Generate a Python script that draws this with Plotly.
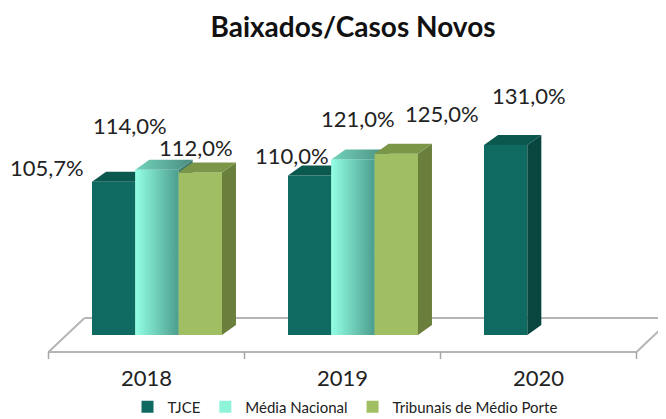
import plotly.graph_objects as go

# ---------------- data ----------------
categories = ["2018", "2019", "2020"]
series_names = ["TJCE", "Média Nacional", "Tribunais de Médio Porte"]
tjce = [105.7, 110.0, 131.0]
media_nacional = [114.0, 121.0, None]
tribunais_medio_porte = [112.0, 125.0, None]
chart_title = "Baixados/Casos Novos"

series_values = [tjce, media_nacional, tribunais_medio_porte]

# ---------------- styling / geometry ----------------
FONT = "Lato"
PAGE_OFF = 8           # default body margin of the page
W, H = 666 - PAGE_OFF, 419 - PAGE_OFF
M_L, M_R, M_T, M_B = 0, 0, 42, 57
PX_PER_CAT = 196.0     # pixels per category
CAT0_PX = 146.5 - PAGE_OFF   # pixel x of first category centre
BASE_PX = 335.0 - PAGE_OFF   # pixel y of value 0
PX_PER_UNIT = 1.45     # pixels per percentage point

x_range = [(0 - CAT0_PX) / PX_PER_CAT, (W - CAT0_PX) / PX_PER_CAT]
y_range = [-(H - M_B - BASE_PX) / PX_PER_UNIT, (BASE_PX - M_T) / PX_PER_UNIT]

BAR_W = 0.221
FIRST_OFFSET = -0.1675
DEPTH_X = 14 / PX_PER_CAT
DEPTH_Y = 10 / PX_PER_UNIT
FLOOR_DX = 36 / PX_PER_CAT
FLOOR_DY = 17 / PX_PER_UNIT
TICK_LEN = 7 / PX_PER_UNIT

styles = [
    dict(legend="#0f6b61", front=("#0f6b61", None), top=("#0b584f", None), side=("#094640", None)),
    dict(legend="#8ff3d9", front=("#93ffe4", "#4c9d8d"), top=("#72d3bb", "#4a8c7e"), side=("#3f7c70", None)),
    dict(legend="#a0bf62", front=("#a0bf62", None), top=("#7c9648", None), side=("#6a7f3c", None)),
]

# label offsets in pixels (dx right, dy up) from each bar's top centre
label_shifts = [
    [(-67, 14), (-18, 20), (23, 50)],
    [(-27, 44), (5, 41), None],
    [(-4, 25), (46, 40), None],
]

fig = go.Figure()

# ---------------- floor ----------------
n = len(categories)
xl0, xr0 = -0.5, n - 0.5
fy = FLOOR_DY
floor_x = [xl0 + FLOOR_DX, xl0, xr0, xr0 + FLOOR_DX, None, xl0 + FLOOR_DX, xr0 + FLOOR_DX]
floor_y = [fy, -fy, -fy, fy, None, fy, fy]
tick_x, tick_y = [], []
for i in range(n + 1):
    tick_x += [i - 0.5, i - 0.5, None]
    tick_y += [-fy, -fy - TICK_LEN, None]
fig.add_trace(go.Scatter(x=floor_x, y=floor_y, mode="lines", line=dict(color="#b5b5b5", width=2),
                         hoverinfo="skip", showlegend=False, xaxis="x", yaxis="y"))
fig.add_trace(go.Scatter(x=tick_x, y=tick_y, mode="lines", line=dict(color="#a6a6a6", width=1.5),
                         hoverinfo="skip", showlegend=False, xaxis="x", yaxis="y"))


def poly_trace(polys, colors, ax):
    c0, c1 = colors
    xs, ys = [], []
    for px, py in polys:
        xs += px + [px[0], None]
        ys += py + [py[0], None]
    kw = dict(x=xs, y=ys, mode="lines", fill="toself", line=dict(width=0),
              hoverinfo="skip", showlegend=False, xaxis="x" + ax, yaxis="y" + ax)
    kw["fillcolor"] = c0
    if c1 is not None:
        kw["fillgradient"] = dict(type="horizontal", colorscale=[[0, c0], [1, c1]])
    return go.Scatter(**kw)


annotations = []
for k, (name, vals, st) in enumerate(zip(series_names, series_values, styles)):
    ax = str(k + 2)
    xc = [i + FIRST_OFFSET + k * BAR_W for i in range(n)]
    fig.add_trace(go.Bar(x=xc, y=vals, width=BAR_W, name=name,
                         marker=dict(color=st["legend"], line=dict(width=0)),
                         xaxis="x" + ax, yaxis="y" + ax))
    fronts, tops, sides = [], [], []
    for i, v in enumerate(vals):
        if v is None:
            continue
        xl, xr = xc[i] - BAR_W / 2, xc[i] + BAR_W / 2
        fronts.append(([xl, xr, xr, xl], [0, 0, v, v]))
        tops.append(([xl, xr, xr + DEPTH_X, xl + DEPTH_X], [v, v, v + DEPTH_Y, v + DEPTH_Y]))
        sides.append(([xr, xr + DEPTH_X, xr + DEPTH_X, xr], [0, DEPTH_Y, v + DEPTH_Y, v]))
        sh = label_shifts[k][i]
        annotations.append(dict(x=xc[i], y=v, xref="x", yref="y", showarrow=False,
                                text=f"{v:.1f}".replace(".", ",") + "%",
                                xshift=sh[0], yshift=sh[1],
                                font=dict(family=FONT, size=22, color="#222222")))
    for faces, key in ((sides, "side"), (tops, "top")):
        if st[key][1] is None:
            fig.add_trace(poly_trace(faces, st[key], ax))
        else:
            for f in faces:
                fig.add_trace(poly_trace([f], st[key], ax))
    if st["front"][1] is not None:
        for f in fronts:
            fig.add_trace(poly_trace([f], st["front"], ax))

layout_axes = {}
for k in range(len(series_names)):
    ax = str(k + 2)
    layout_axes["xaxis" + ax] = dict(overlaying="x", range=x_range, visible=False, fixedrange=True)
    layout_axes["yaxis" + ax] = dict(overlaying="y", range=y_range, visible=False, fixedrange=True)

plot_h = H - M_T - M_B
fig.update_layout(
    width=W, height=H,
    margin=dict(l=M_L, r=M_R, t=M_T, b=M_B, autoexpand=False),
    paper_bgcolor="white", plot_bgcolor="white",
    barmode="overlay",
    title=dict(text=f"<b>{chart_title}</b>", x=(353 - PAGE_OFF) / W, xref="container", xanchor="center",
               y=1 - (27 - PAGE_OFF) / H, yref="container", yanchor="middle",
               font=dict(family=FONT, size=28, color="#111111")),
    xaxis=dict(range=x_range, tickmode="array", tickvals=list(range(n)), ticktext=categories,
               showgrid=False, zeroline=False, showline=False, ticks="", ticklabelstandoff=1,
               tickfont=dict(family=FONT, size=22, color="#222222"), fixedrange=True),
    yaxis=dict(range=y_range, visible=False, fixedrange=True),
    legend=dict(orientation="h", x=(345 - PAGE_OFF) / W, xanchor="center",
                y=-((407 - PAGE_OFF) - (H - M_B)) / plot_h, yanchor="middle",
                font=dict(family=FONT, size=15, color="#222222"),
                itemwidth=30, bgcolor="rgba(0,0,0,0)"),
    annotations=annotations,
    showlegend=True,
    **layout_axes,
)

fig.write_html("out.html")
